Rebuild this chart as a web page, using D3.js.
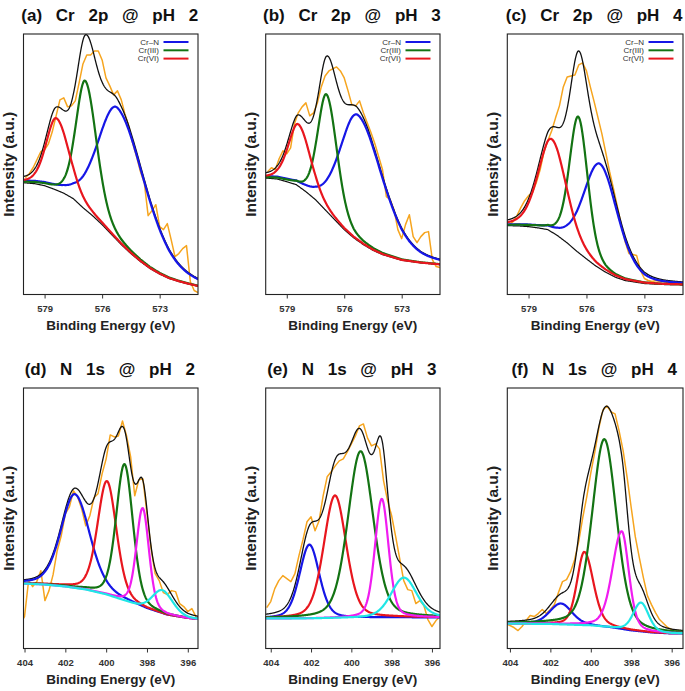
<!DOCTYPE html>
<html><head><meta charset="utf-8">
<script src="https://cdn.jsdelivr.net/npm/d3@7"></script>
<style>
html,body{margin:0;padding:0;background:#fff;}
svg{display:block;font-family:"Liberation Sans",Arial,sans-serif;}
</style></head><body>
<svg id="chart" width="685" height="691"></svg>
<script>
// ================= DATA =================
const titles = ["(a) Cr 2p @ pH 2","(b) Cr 2p @ pH 3","(c) Cr 2p @ pH 4",
                "(d) N 1s @ pH 2","(e) N 1s @ pH 3","(f) N 1s @ pH 4"];
const legendLabels = ["Cr\u2013N","Cr(III)","Cr(VI)"];
const crTicks = [579, 576, 573];
const nTicks = [404, 402, 400, 398, 396];
const crDomain = [580.1, 571.0];
const nDomainD = [404.05, 395.5];
const nDomainE = [404.25, 395.6];
const nDomainF = [404.13, 395.44];
const intensityMax = 261;   // arbitrary units, full height of a panel

// raw spectra (orange), Cr 2p energy grid
const crEnergy = [580,579.8,579.6,579.4,579.2,579,578.8,578.6,578.4,578.2,578,577.8,577.6,577.4,577.2,577,576.8,576.6,576.4,576.2,576,575.8,575.6,575.4,575.2,575,574.8,574.6,574.4,574.2,574,573.8,573.6,573.4,573.2,573,572.8,572.6,572.4,572.2,572,571.8,571.6,571.4,571.2,571];
const rawA = [117,121,127,135,143,145,151,163,179,195,197,188,189,194,212,231,240,240,244,244,235,217,209,200,204,195,180,168,151,138,123,112,79,84,90,68,65,71,55,38,41,46,49,13,4,2];
const rawB = [123,127,125,136,144,141,147,171,182,188,192,179,182,192,208,219,224,226,228,224,217,204,190,189,194,182,172,162,151,138,125,98,95,85,65,56,70,80,58,52,58,62,63,35,28,27];
const rawC = [70,73,79,87,94,99,102,112,125,143,154,164,177,189,208,218,219,220,230,232,224,208,193,177,161,142,123,106,88,70,53,41,40,39,24,16,14,13,14,13,13,12,11,12,10,10];

// raw spectra (orange), N 1s energy grid
const nEnergy = [404.2,404,403.8,403.6,403.4,403.2,403,402.8,402.6,402.4,402.2,402,401.8,401.6,401.4,401.2,401,400.8,400.6,400.4,400.2,400,399.8,399.6,399.4,399.2,399,398.8,398.6,398.4,398.2,398,397.8,397.6,397.4,397.2,397,396.8,396.6,396.4,396.2,396,395.8,395.6];
const rawD = [25,32,68,62,67,78,48,58,74,98,113,135,142,158,152,140,123,133,151,155,175,190,214,212,213,228,213,192,153,169,170,135,100,75,68,56,54,58,57,45,42,37,40,32];
const rawE = [41,47,60,68,73,70,67,75,93,109,127,132,118,128,153,172,177,183,188,190,197,205,213,223,225,211,203,205,200,168,148,133,112,90,68,59,58,45,48,43,29,22,28,32];
const rawF = [25,23,21,18,22,28,33,32,35,39,35,39,44,56,67,69,77,89,107,131,152,176,197,221,239,243,237,235,218,198,171,141,112,91,71,53,44,36,29,25,21,19,18,18];

// backgrounds [energy, intensity]
const bgA = [[580.1,112],[579.5,111],[579,109],[578.5,105.5],[578,101.5],[577.5,96],[577,87],[576.5,79],[576,70],[575.5,60],[575,50],[574.5,41],[574,33],[573.5,26],[573,20.5],[572.5,16],[572,13],[571.5,10.5],[571,8.3]];
const bgB = [[580.1,116.7],[579.5,115.7],[579,113],[578.5,110],[578,103],[577.5,95],[577,85],[576.5,75],[576,65],[575.5,56.7],[575,50],[574.5,44.3],[574,40],[573,34.3],[572,31.7],[571,30]];
const bgC = [[580.1,69],[579.5,68.7],[579,68],[578.5,66.7],[578,65],[577.5,59],[577,51.7],[576.5,43.3],[576,35.7],[575.5,28.3],[575,22.3],[574.5,17.3],[574,14],[573,11],[572,10],[571,9.7]];
const bgD = [[404.2,65],[404,65],[403,64],[402,62],[401,59],[400,54],[399,47],[398,39],[397,33],[396,30],[395.4,29]];
const bgE = [[404.3,30],[402,30],[400,30.5],[398,31],[395.5,31]];
const bgF = [[404.2,25],[402,24.5],[400,23],[399,21],[398,18],[397,16],[396,15],[395.4,15]];

// fitted components: [centre (eV), height, FWHM high-BE side, FWHM low-BE side]
const peaksA = [[575.19,133,2.4,3.4],[576.88,129,1.15,1.4],[578.39,72,1.25,1.6]];
const peaksB = [[575.3,126,2.2,3.1],[576.92,117,1.1,1.3],[578.39,62,1.25,1.5]];
const peaksC = [[575.3,105,2.0,2.2],[576.42,136,1.1,1.15],[577.8,93,1.65,1.8]];
const peaksD = [[401.54,94,1.6,1.75],[399.96,114,1.1,1.1],[399.1,137,0.97,0.97],[398.21,100,0.73,0.73],[397.24,24,1.2,1.2]];
const peaksE = [[402.08,74,1.16,1.16],[400.81,123,1.32,1.32],[399.54,167,1.49,1.49],[398.49,119,0.8,0.8],[397.39,40,1.5,1.5]];
const peaksF = [[401.48,21,1.3,1.3],[400.32,73.5,0.85,1.05],[399.33,188,1.43,1.43],[398.47,98,1.1,0.83],[397.52,29,0.9,0.9]];
const lorentzFraction = 0.3;

// ================= STYLE / LAYOUT =================
const crColors = ["#1616e6","#137313","#e8161e"];
const nColors  = ["#1616e6","#e8161e","#137313","#f01cf0","#20e6e6"];
const rawColor = "#f6a51f";

const panels = [
  {t:0,energy:crEnergy,raw:rawA,bg:bgA,peaks:peaksA,domain:crDomain,ticks:crTicks,colors:crColors,legend:true,showBg:true, box:[23.5,34,198,294.5]},
  {t:1,energy:crEnergy,raw:rawB,bg:bgB,peaks:peaksB,domain:crDomain,ticks:crTicks,colors:crColors,legend:true,showBg:true, box:[265.7,34,440,294.5]},
  {t:2,energy:crEnergy,raw:rawC,bg:bgC,peaks:peaksC,domain:crDomain,ticks:crTicks,colors:crColors,legend:true,showBg:true, box:[507.3,34,683,294.5]},
  {t:3,energy:nEnergy,raw:rawD,bg:bgD,peaks:peaksD,domain:nDomainD,ticks:nTicks,colors:nColors,legend:false,showBg:false,box:[23.5,388,198,648.5]},
  {t:4,energy:nEnergy,raw:rawE,bg:bgE,peaks:peaksE,domain:nDomainE,ticks:nTicks,colors:nColors,legend:false,showBg:false,box:[265.7,388,440,648.5]},
  {t:5,energy:nEnergy,raw:rawF,bg:bgF,peaks:peaksF,domain:nDomainF,ticks:nTicks,colors:nColors,legend:false,showBg:false,box:[507.3,388,683,648.5]}
];

const svg = d3.select("#chart");

function pv(E, p){
  const [c,h,wHi,wLo] = p;
  const hw = (E >= c ? wHi : wLo) / 2;
  const r2 = ((E - c) / hw) ** 2;
  return h * ((1 - lorentzFraction) * Math.exp(-Math.LN2 * r2) + lorentzFraction / (1 + r2));
}

panels.forEach((P, i) => {
  const [x0,y0,x1,y1] = P.box;
  const x = d3.scaleLinear().domain(P.domain).range([x0,x1]);
  const y = d3.scaleLinear().domain([0,intensityMax]).range([y1,y0]);
  const bgScale = d3.scaleLinear().domain(P.bg.map(d=>d[0])).range(P.bg.map(d=>d[1])).clamp(true);
  const g = svg.append("g");
  const clipId = "clip"+i;
  g.append("clipPath").attr("id",clipId).append("rect")
    .attr("x",x0).attr("y",y0).attr("width",x1-x0).attr("height",y1-y0);
  const plot = g.append("g").attr("clip-path",`url(#${clipId})`);
  const line = d3.line().x(d=>x(d[0])).y(d=>y(d[1]));

  const lo = Math.min(...P.domain), hi = Math.max(...P.domain);
  const grid = d3.range(lo-0.05, hi+0.05, 0.02);

  // raw
  plot.append("path").datum(P.energy.map((e,k)=>[e,P.raw[k]]))
    .attr("d",line).attr("fill","none").attr("stroke",rawColor).attr("stroke-width",1.5)
    .attr("stroke-linejoin","round");
  // envelope
  const env = grid.map(E => [E, bgScale(E) + d3.sum(P.peaks, p => pv(E,p))]);
  plot.append("path").datum(env).attr("d",line).attr("fill","none")
    .attr("stroke","#111").attr("stroke-width",1.3);
  // background
  if (P.showBg) {
    plot.append("path").datum(grid.map(E=>[E,bgScale(E)])).attr("d",line)
      .attr("fill","none").attr("stroke","#111").attr("stroke-width",1.2);
  }
  // components
  P.peaks.forEach((p,j) => {
    plot.append("path").datum(grid.map(E=>[E,bgScale(E)+pv(E,p)])).attr("d",line)
      .attr("fill","none").attr("stroke",P.colors[j]).attr("stroke-width",2.2);
  });

  // frame
  g.append("rect").attr("x",x0).attr("y",y0).attr("width",x1-x0).attr("height",y1-y0)
    .attr("fill","none").attr("stroke","#222").attr("stroke-width",1.1);

  // axis
  const ax = g.append("g").attr("transform",`translate(0,${y1})`)
    .call(d3.axisBottom(x).tickValues(P.ticks).tickSize(4).tickPadding(6.3).tickFormat(d3.format("d")));
  ax.select(".domain").remove();
  ax.selectAll(".tick line").attr("stroke","#333");
  ax.selectAll(".tick text").attr("fill","#333").style("font-size","9.5px").style("font-weight","bold")
    .style("font-family","'Liberation Sans',Arial,sans-serif");

  // axis titles
  g.append("text").attr("x",(x0+x1)/2).attr("y",y1+35).attr("text-anchor","middle")
    .style("font-size","13.5px").style("font-weight","bold").attr("fill","#222")
    .text("Binding Energy (eV)");
  g.append("text").attr("transform",`translate(${x0-9.5},${(y0+y1)/2}) rotate(-90)`)
    .attr("text-anchor","middle").style("font-size","15.5px").style("font-weight","bold").attr("fill","#222")
    .text("Intensity (a.u.)");
  // title
  g.append("text").attr("x",(x0+x1)/2 - 1).attr("y",y0-13).attr("text-anchor","middle")
    .style("font-size","17px").style("font-weight","bold").style("word-spacing","9px").attr("fill","#111")
    .text(titles[P.t]);

  // legend
  if (P.legend) {
    legendLabels.forEach((lab,j) => {
      const ly = y0 + 8 + j*8.3;
      g.append("line").attr("x1",x1-34.5).attr("x2",x1-9.5).attr("y1",ly).attr("y2",ly)
        .attr("stroke",P.colors[j]).attr("stroke-width",2);
      g.append("text").attr("x",x1-39).attr("y",ly+2.6).attr("text-anchor","end")
        .style("font-family","'Liberation Sans Narrow','Arial Narrow','Liberation Sans',sans-serif")
        .style("font-size","8px").attr("fill","#333").text(lab);
    });
  }
});
</script>
</body></html>
